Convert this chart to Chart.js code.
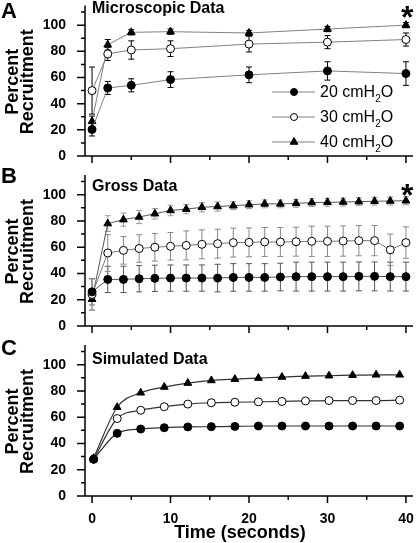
<!DOCTYPE html>
<html lang="en">
<head>
<meta charset="UTF-8" />
<title>Percent Recruitment</title>
<script src="https://cdn.jsdelivr.net/npm/chart.js"></script>
<style>
  body { margin: 0; background: #fff; }
  .panel { position: absolute; left: 0; width: 419px; }
</style>
</head>
<body>
<div class="panel" style="top:0;height:170px"><canvas id="chartA" width="419" height="170"></canvas></div>
<div class="panel" style="top:164px;height:176px"><canvas id="chartB" width="419" height="176"></canvas></div>
<div class="panel" style="top:334px;height:209px"><canvas id="chartC" width="419" height="209"></canvas></div>
<script>
  // A: microscopic data
  const timesA = [0, 2, 5, 10, 20, 30, 40];
  const a20 = [20.3, 52, 54, 58.4, 62, 65, 63];
  const a20Err = [5, 5, 5, 6, 6, 7, 9];
  const a30 = [50, 78, 81, 82, 85.5, 87, 89];
  const a30Err = [18, 5, 7, 6, 6, 5, 5];
  const a40 = [26.5, 85, 94.5, 95, 94, 97, 100];
  const a40Err = [4, 4, 2, 2, 2, 2, 2];

  // B: gross data
  const timesB = [0, 2, 4, 6, 8, 10, 12, 14, 16, 18, 20, 22, 24, 26, 28, 30, 32, 34, 36, 38, 40];
  const b20 = [26, 35.5, 35.5, 36, 36.3, 36.5, 36.5, 36.5, 36.5, 37, 37, 37, 37.3, 37.6, 37.6, 37.6, 37.6, 37.8, 37.8, 37.6, 37.6];
  const b20Err = [10, 10, 10, 10, 10, 10, 10, 10, 10.5, 10.5, 10.5, 10.5, 10.5, 11, 11, 11, 11, 11, 11, 11, 11];
  const b30 = [24, 55.6, 57.6, 59, 60, 60.7, 61.4, 62.2, 62.7, 63.5, 63.7, 64, 64, 64.2, 64.5, 64.5, 64.7, 65, 65, 58, 63.5];
  const b30Err = [12, 14, 10.5, 10.5, 10.5, 10.5, 11, 11, 11, 11, 11, 11, 11, 11, 11.5, 11.5, 11.5, 11.5, 11.5, 12, 12];
  const b40 = [20.4, 78, 81, 83, 85.5, 88, 89, 90.4, 91, 91.6, 92.4, 93, 93, 93.4, 94, 94.2, 94.4, 94.7, 95, 95.2, 95.4];
  const b40Err = [8, 6, 5, 5, 4, 4, 3.5, 3.5, 3.5, 3, 3, 3, 3, 3, 3, 3, 3, 3, 3, 3, 3];

  // C: simulated data
  const timesC = [0.2, 3.2, 6.2, 9.2, 12.2, 15.2, 18.2, 21.2, 24.2, 27.2, 30.2, 33.2, 36.2, 39.2];
  const c20 = [28, 47.7, 51, 52, 52.6, 52.8, 53, 53.3, 53.3, 53.3, 53.3, 53.3, 53.3, 53.3];
  const c30 = [28, 59, 65.3, 68, 70, 71, 71.4, 71.7, 72, 72.4, 72.7, 72.7, 72.7, 73];
  const c40 = [28.8, 67.6, 78.6, 83, 86, 88, 89, 89.8, 90.6, 91.3, 91.6, 92, 92.3, 92.3];

  const xTicks = [0, 5, 10, 15, 20, 25, 30, 35, 40];
  const yTicks = [0, 10, 20, 30, 40, 50, 60, 70, 80, 90, 100, 110];
  const legendLabels = ['20 cmH', '30 cmH', '40 cmH'];

  const FONT = "'Liberation Sans', Arial, sans-serif";

  function xy(times, vals) {
    return times.map((t, i) => ({ x: t, y: vals[i] }));
  }

  function series(times, vals, errs, style, lineColor, errColor) {
    const filled = style !== 'open';
    return {
      data: xy(times, vals),
      errors: errs,
      errColor: errColor,
      pointStyle: style === 'tri' ? 'triangle' : 'circle',
      pointRadius: style === 'tri' ? 4.5 : 4,
      pointBackgroundColor: filled ? '#000' : '#fff',
      pointBorderColor: '#000',
      pointBorderWidth: 1,
      borderColor: lineColor,
      borderWidth: 1,
      fill: false
    };
  }

  // axes, error bars and text drawn on top of the chart
  const decor = {
    id: 'decor',
    beforeDatasetsDraw(chart) {
      const ctx = chart.ctx, x = chart.scales.x, y = chart.scales.y;
      ctx.save();
      chart.data.datasets.forEach(ds => {
        if (!ds.errors) return;
        ctx.strokeStyle = ds.errColor;
        ctx.lineWidth = 1;
        ds.data.forEach((p, i) => {
          const e = ds.errors[i];
          const px = x.getPixelForValue(p.x);
          const top = y.getPixelForValue(p.y + e);
          const bot = y.getPixelForValue(p.y - e);
          ctx.beginPath();
          ctx.moveTo(px, top); ctx.lineTo(px, bot);
          ctx.moveTo(px - 3, top); ctx.lineTo(px + 3, top);
          ctx.moveTo(px - 3, bot); ctx.lineTo(px + 3, bot);
          ctx.stroke();
        });
      });
      ctx.restore();
    },
    afterDraw(chart, args, opts) {
      const ctx = chart.ctx, x = chart.scales.x, y = chart.scales.y;
      const y0 = y.getPixelForValue(0);
      const off = opts.off || 0;
      ctx.save();
      ctx.strokeStyle = '#000';
      ctx.lineWidth = 1.5;
      ctx.beginPath();
      ctx.moveTo(x.left, y.top); ctx.lineTo(x.left, y0);
      ctx.moveTo(x.left - 8, y0); ctx.lineTo(x.right, y0);
      yTicks.forEach(v => {
        const py = y.getPixelForValue(v);
        ctx.moveTo(x.left - (v % 20 === 0 ? 8 : 4), py); ctx.lineTo(x.left, py);
      });
      xTicks.forEach(v => {
        const px = x.getPixelForValue(v);
        ctx.moveTo(px, y0); ctx.lineTo(px, y0 + (v % 10 === 0 ? 7 : 4));
      });
      ctx.stroke();

      ctx.fillStyle = '#000';
      ctx.textBaseline = 'alphabetic';
      ctx.textAlign = 'left';
      ctx.font = 'bold 22px ' + FONT;
      ctx.fillText(opts.letter, 1, opts.letterY + off);
      ctx.font = 'bold 16px ' + FONT;
      ctx.fillText(opts.title, 92, opts.titleY + off);
      if (opts.star) {
        ctx.font = 'bold 32px ' + FONT;
        ctx.fillText('*', 401, opts.titleY + off + 15);
      }

      // rotated y title
      ctx.save();
      ctx.translate(0, (y.top + y0) / 2 + 1);
      ctx.rotate(-Math.PI / 2);
      ctx.textAlign = 'center';
      ctx.font = 'bold 18px ' + FONT;
      ctx.fillText('Percent', 0, 18);
      ctx.fillText('Recruitment', 0, 33);
      ctx.restore();

      if (opts.legend) {
        const styles = ['circle', 'circle', 'triangle'];
        const fills = ['#000', '#fff', '#000'];
        legendLabels.forEach((lab, i) => {
          const base = 97 + i * 25;
          const my = base - 5;
          ctx.strokeStyle = '#808080';
          ctx.lineWidth = 1;
          ctx.beginPath(); ctx.moveTo(272, my); ctx.lineTo(315, my); ctx.stroke();
          ctx.fillStyle = fills[i];
          ctx.strokeStyle = '#000';
          Chart.helpers.drawPoint(ctx, { pointStyle: styles[i], radius: i === 2 ? 4.5 : 3.5, borderWidth: 1 }, 294, my);
          ctx.fillStyle = '#000';
          ctx.font = '16px ' + FONT;
          ctx.fillText(lab, 320, base);
          let w = ctx.measureText(lab).width;
          ctx.font = '10px ' + FONT;
          ctx.fillText('2', 320 + w, base + 5);
          w += ctx.measureText('2').width;
          ctx.font = '16px ' + FONT;
          ctx.fillText('O', 320 + w, base);
        });
      }
      if (opts.xTitle) {
        ctx.textAlign = 'center';
        ctx.font = 'bold 18px ' + FONT;
        ctx.fillText('Time (seconds)', 240, y0 + 42);
      }
      ctx.restore();
    }
  };

  function options(showX, padTop, decorOpts) {
    return {
      responsive: false,
      animation: false,
      layout: { padding: { top: padTop, right: 6, left: 0, bottom: 0 } },
      plugins: { legend: { display: false }, tooltip: { enabled: false }, decor: decorOpts },
      scales: {
        x: {
          type: 'linear', min: -0.9, max: 40.9,
          grid: { display: false }, border: { display: false },
          ticks: {
            display: showX, stepSize: 10, autoSkip: false, maxRotation: 0, padding: 7, includeBounds: false,
            color: '#000', font: { family: FONT, size: 14, weight: 'bold' },
            callback: v => (v >= 0 && v % 10 === 0 ? v : '')
          },
          afterFit: s => { s.height = showX ? 47 : 14; s.paddingLeft = 0; s.paddingRight = 0; }
        },
        y: {
          min: 0, max: 115,
          grid: { display: false }, border: { display: false },
          ticks: {
            stepSize: 20, autoSkip: false, padding: 11, includeBounds: false,
            color: '#000', font: { family: FONT, size: 14, weight: 'bold' },
            callback: v => (v % 20 === 0 && v <= 100 ? v : '')
          },
          afterFit: s => { s.width = 85; s.paddingTop = 0; s.paddingBottom = 0; }
        }
      }
    };
  }

  new Chart(document.getElementById('chartA'), {
    type: 'line',
    data: { datasets: [
      series(timesA, a20, a20Err, 'filled', '#808080', '#000'),
      series(timesA, a30, a30Err, 'open', '#808080', '#000'),
      series(timesA, a40, a40Err, 'tri', '#808080', '#000')
    ] },
    options: options(false, 5, { letter: 'A', letterY: 18, title: 'Microscopic Data', titleY: 13, star: true, legend: true }),
    plugins: [decor]
  });

  new Chart(document.getElementById('chartB'), {
    type: 'line',
    data: { datasets: [
      series(timesB, b20, b20Err, 'filled', '#555', '#555'),
      series(timesB, b30, b30Err, 'open', '#777', '#888'),
      series(timesB, b40, b40Err, 'tri', '#555', '#999')
    ] },
    options: options(false, 11, { letter: 'B', letterY: 13, title: 'Gross Data', titleY: 21, star: true, off: 6 }),
    plugins: [decor]
  });

  const smooth = ds => Object.assign(ds, { cubicInterpolationMode: 'monotone', borderColor: '#333', borderWidth: 1.2 });
  new Chart(document.getElementById('chartC'), {
    type: 'line',
    data: { datasets: [
      smooth(series(timesC, c20, null, 'filled', '#333')),
      smooth(series(timesC, c30, null, 'open', '#333')),
      smooth(series(timesC, c40, null, 'tri', '#333'))
    ] },
    options: options(true, 11, { letter: 'C', letterY: 15, title: 'Simulated Data', titleY: 24, xTitle: true, off: 6 }),
    plugins: [decor]
  });
</script>
</body>
</html>
